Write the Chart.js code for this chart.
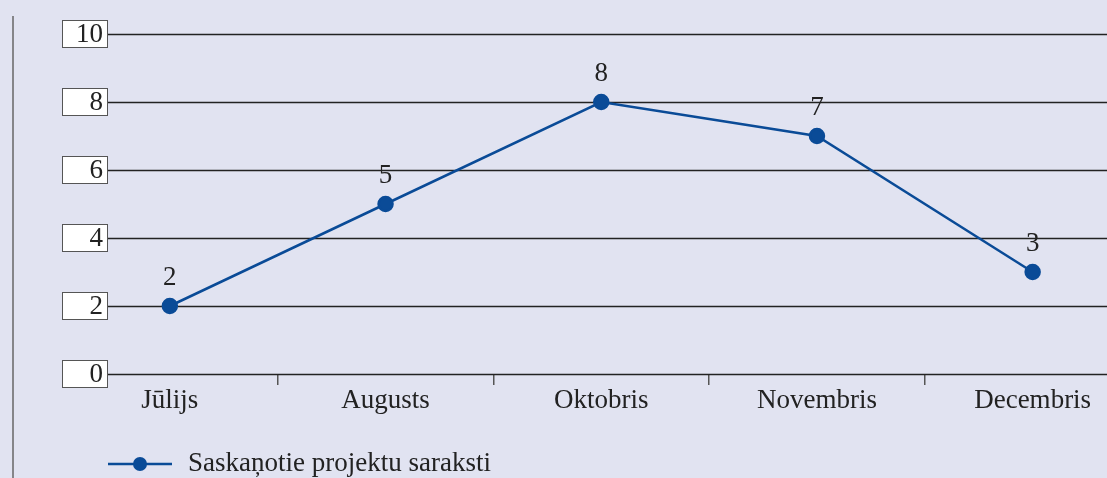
<!DOCTYPE html>
<html>
<head>
<meta charset="utf-8">
<script src="https://cdn.jsdelivr.net/npm/chart.js@4/dist/chart.umd.min.js"></script>
<style>
  html, body { margin: 0; padding: 0; background: #e1e3f1; overflow: hidden; }
  #wrap { width: 1107px; height: 478px; overflow: hidden; position: relative; }
</style>
</head>
<body>
<div id="wrap"><canvas id="chart" width="1150" height="478"></canvas></div>
<script>
const months = ['Jūlijs', 'Augusts', 'Oktobris', 'Novembris', 'Decembris'];
const projects = [2, 5, 8, 7, 3];
const seriesLabel = 'Saskaņotie projektu saraksti';
const yMin = 0, yMax = 10, yStep = 2;

const FONT = '"Liberation Serif", "DejaVu Serif", serif';
const BLUE = '#0a4b97';

// boxes on the y axis, grid lines, value labels, legend, left rule
const decor = {
  id: 'decor',
  beforeDatasetsDraw(chart) {
    const ctx = chart.ctx, y = chart.scales.y, a = chart.chartArea;
    ctx.save();
    ctx.strokeStyle = '#222';
    ctx.lineWidth = 1.5;
    y.ticks.forEach(t => {
      const py = Math.round(y.getPixelForValue(t.value)) + 0.5;
      ctx.beginPath(); ctx.moveTo(a.left + 46, py); ctx.lineTo(chart.width, py); ctx.stroke();
    });
    ctx.restore();
  },
  afterDraw(chart) {
    const ctx = chart.ctx, y = chart.scales.y, a = chart.chartArea;
    ctx.save();
    // left rule
    ctx.strokeStyle = '#666'; ctx.lineWidth = 1.5;
    ctx.beginPath(); ctx.moveTo(13, 16); ctx.lineTo(13, chart.height); ctx.stroke();

    // y tick boxes
    ctx.font = '27px ' + FONT;
    ctx.textAlign = 'right'; ctx.textBaseline = 'middle';
    y.ticks.forEach(t => {
      const py = Math.round(y.getPixelForValue(t.value));
      ctx.fillStyle = '#fff';
      ctx.fillRect(a.left + 0.5, py - 13.5, 45, 27);
      ctx.strokeStyle = '#555'; ctx.lineWidth = 1;
      ctx.strokeRect(a.left + 0.5, py - 13.5, 45, 27);
      ctx.fillStyle = '#222';
      ctx.fillText(String(t.value), a.left + 41, py + 1);
    });

    // value labels above points
    ctx.textAlign = 'center';
    const meta = chart.getDatasetMeta(0);
    meta.data.forEach((pt, i) => {
      ctx.fillText(String(chart.data.datasets[0].data[i]), pt.x, pt.y - 28);
    });

    // legend
    const ly = 464;
    ctx.strokeStyle = BLUE; ctx.lineWidth = 2.5;
    ctx.beginPath(); ctx.moveTo(108, ly); ctx.lineTo(172, ly); ctx.stroke();
    ctx.fillStyle = BLUE;
    ctx.beginPath(); ctx.arc(140, ly, 7, 0, Math.PI * 2); ctx.fill();
    ctx.fillStyle = '#222'; ctx.textAlign = 'left';
    ctx.fillText(chart.data.datasets[0].label, 188, ly);
    ctx.restore();
  }
};

new Chart(document.getElementById('chart'), {
  type: 'line',
  data: {
    labels: months,
    datasets: [{
      label: seriesLabel,
      data: projects,
      borderColor: BLUE,
      backgroundColor: BLUE,
      borderWidth: 2.5,
      pointRadius: 7,
      pointHoverRadius: 7,
      tension: 0
    }]
  },
  options: {
    responsive: false,
    animation: false,
    layout: { padding: { left: 62, top: 34, right: 0, bottom: 0 } },
    plugins: { legend: { display: false }, tooltip: { enabled: false } },
    scales: {
      x: {
        offset: true,
        border: { display: false },
        grid: {
          offset: true, drawOnChartArea: false, drawTicks: true, tickLength: 11, lineWidth: 1.5,
          color: c => (c.index === 0 ? 'rgba(0,0,0,0)' : '#555')
        },
        ticks: { color: '#222', font: { family: FONT, size: 27 }, padding: 0, maxRotation: 0 },
        afterFit(s) { s.height = 104; }
      },
      y: {
        display: false,
        min: yMin, max: yMax,
        ticks: { stepSize: yStep }
      }
    }
  },
  plugins: [decor]
});
</script>
</body>
</html>
